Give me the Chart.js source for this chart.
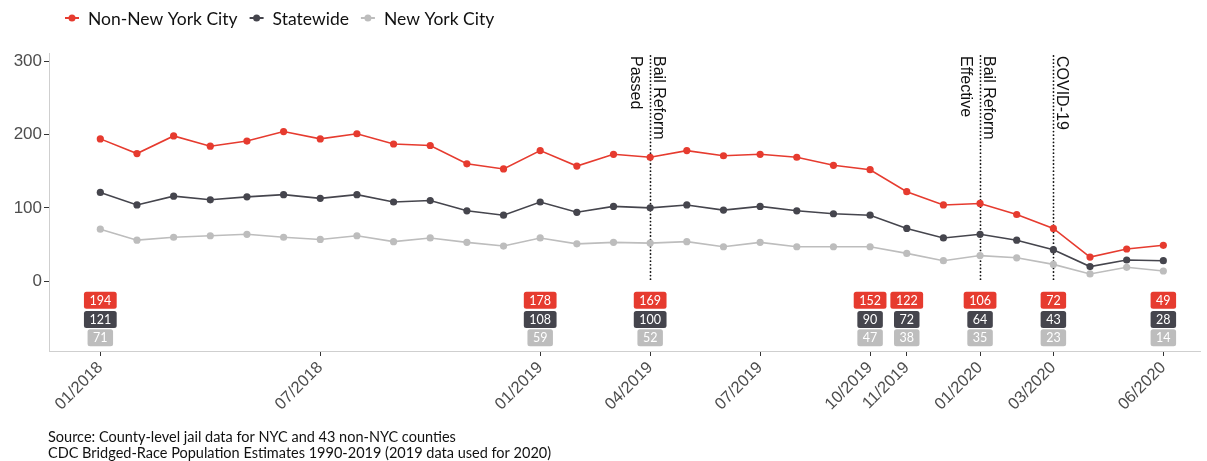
<!DOCTYPE html>
<html>
<head>
<meta charset="utf-8">
<script src="https://cdn.jsdelivr.net/npm/chart.js@4"></script>
<style>
  body { margin: 0; background: #fff; }
  #wrap { width: 1207px; height: 461px; }
</style>
</head>
<body>
<div id="wrap"><canvas id="jailChart" width="1207" height="461"></canvas></div>
<script>
// Meses (eje x)
const months = [
  '01/2018', '02/2018', '03/2018', '04/2018', '05/2018', '06/2018',
  '07/2018', '08/2018', '09/2018', '10/2018', '11/2018', '12/2018',
  '01/2019', '02/2019', '03/2019', '04/2019', '05/2019', '06/2019',
  '07/2019', '08/2019', '09/2019', '10/2019', '11/2019', '12/2019',
  '01/2020', '02/2020', '03/2020', '04/2020', '05/2020', '06/2020'
];
const tickMonths = ['01/2018', '07/2018', '01/2019', '04/2019', '07/2019', '10/2019', '11/2019', '01/2020', '03/2020', '06/2020'];
const yTicks = [0, 100, 200, 300];

// Series
const nonNyc = [194, 174, 198, 184, 191, 204, 194, 201, 187, 185, 160, 153, 178, 157, 173, 169, 178, 171, 173, 169, 158, 152, 122, 104, 106, 91, 72, 33, 44, 49];
const statewide = [121, 104, 116, 111, 115, 118, 113, 118, 108, 110, 96, 90, 108, 94, 102, 100, 104, 97, 102, 96, 92, 90, 72, 59, 64, 56, 43, 20, 29, 28];
const nyc = [71, 56, 60, 62, 64, 60, 57, 62, 54, 59, 53, 48, 59, 51, 53, 52, 54, 47, 53, 47, 47, 47, 38, 28, 35, 32, 23, 10, 19, 14];

const seriesNames = ['Non-New York City', 'Statewide', 'New York City'];
const seriesColors = ['#E63B2F', '#45454D', '#BDBDBD'];

// Etiquetas con valores y eventos
const badgeMonths = ['01/2018', '01/2019', '04/2019', '10/2019', '11/2019', '01/2020', '03/2020', '06/2020'];
const eventMonths = ['04/2019', '01/2020', '03/2020'];
const eventLabels = [['Bail Reform', 'Passed'], ['Bail Reform', 'Effective'], ['COVID-19']];

const sourceLines = [
  'Source: County-level jail data for NYC and 43 non-NYC counties',
  'CDC Bridged-Race Population Estimates 1990-2019 (2019 data used for 2020)'
];

function roundRect(ctx, x, y, w, h, r) {
  ctx.beginPath();
  ctx.moveTo(x + r, y);
  ctx.lineTo(x + w - r, y);
  ctx.quadraticCurveTo(x + w, y, x + w, y + r);
  ctx.lineTo(x + w, y + h - r);
  ctx.quadraticCurveTo(x + w, y + h, x + w - r, y + h);
  ctx.lineTo(x + r, y + h);
  ctx.quadraticCurveTo(x, y + h, x, y + h - r);
  ctx.lineTo(x, y + r);
  ctx.quadraticCurveTo(x, y, x + r, y);
  ctx.closePath();
}

const extrasPlugin = {
  id: 'extras',
  beforeDatasetsDraw(chart) {
    const ctx = chart.ctx;
    const xs = chart.scales.x;
    const ys = chart.scales.y;
    ctx.save();
    // lineas punteadas de eventos
    eventMonths.forEach((m, i) => {
      const x = Math.round(xs.getPixelForValue(months.indexOf(m))) + 0.5;
      const top = ys.top + 3;
      ctx.beginPath();
      ctx.setLineDash([0, 3.6]);
      ctx.lineCap = 'round';
      ctx.lineWidth = 1.8;
      ctx.strokeStyle = '#111';
      ctx.moveTo(x, top);
      ctx.lineTo(x, ys.getPixelForValue(0));
      ctx.stroke();
      ctx.setLineDash([]);

      // texto rotado
      ctx.save();
      ctx.translate(x, top);
      ctx.rotate(Math.PI / 2);
      ctx.fillStyle = '#111';
      ctx.font = '16px "Liberation Sans", Arial, sans-serif';
      ctx.textAlign = 'left';
      ctx.textBaseline = 'alphabetic';
      eventLabels[i].forEach((txt, j) => {
        ctx.fillText(txt, 0, j === 0 ? -3 : 20);
      });
      ctx.restore();
    });
    ctx.restore();
  },
  afterDatasetsDraw(chart) {
    const ctx = chart.ctx;
    const xs = chart.scales.x;
    const ys = chart.scales.y;
    const levels = [-26, -52, -77];
    const all = [nonNyc, statewide, nyc];
    ctx.save();
    ctx.font = '12.5px Lato, sans-serif';
    ctx.textAlign = 'center';
    ctx.textBaseline = 'middle';
    badgeMonths.forEach(m => {
      const idx = months.indexOf(m);
      const x = xs.getPixelForValue(idx);
      all.forEach((serie, s) => {
        const y = ys.getPixelForValue(levels[s]);
        const txt = String(serie[idx]);
        const w = Math.max(ctx.measureText(txt).width + 11, 20);
        const h = 17;
        ctx.fillStyle = seriesColors[s];
        roundRect(ctx, x - w / 2, y - h / 2, w, h, 2.5);
        ctx.fill();
        ctx.fillStyle = '#fff';
        ctx.fillText(txt, x, y + 0.5);
      });
    });
    ctx.restore();
  },
  afterDraw(chart) {
    const ctx = chart.ctx;
    ctx.save();
    // leyenda
    let x = 65;
    const y = 18;
    ctx.font = '17.5px Lato, sans-serif';
    ctx.textBaseline = 'middle';
    ctx.textAlign = 'left';
    seriesNames.forEach((name, i) => {
      ctx.strokeStyle = seriesColors[i];
      ctx.fillStyle = seriesColors[i];
      ctx.lineWidth = 2;
      ctx.beginPath();
      ctx.moveTo(x, y);
      ctx.lineTo(x + 14, y);
      ctx.stroke();
      ctx.beginPath();
      ctx.arc(x + 7, y, 3.5, 0, Math.PI * 2);
      ctx.fill();
      ctx.fillStyle = '#111';
      ctx.fillText(name, x + 23, y + 1);
      x += 23 + ctx.measureText(name).width + 12;
    });

    // fuente
    ctx.font = '14.5px Lato, sans-serif';
    ctx.fillStyle = '#111';
    ctx.textBaseline = 'middle';
    sourceLines.forEach((line, i) => {
      ctx.fillText(line, 48, chart.height - 24 + i * 16);
    });
    ctx.restore();
  }
};

function makeDataset(label, data, color) {
  return {
    label: label,
    data: data,
    borderColor: color,
    backgroundColor: color,
    borderWidth: 1.6,
    pointRadius: 3.6,
    pointHoverRadius: 3.6,
    pointBorderWidth: 0,
    tension: 0
  };
}

const ctx = document.getElementById('jailChart').getContext('2d');
new Chart(ctx, {
  type: 'line',
  data: {
    labels: months.map((m, i) => i),
    datasets: [
      makeDataset(seriesNames[2], nyc, seriesColors[2]),
      makeDataset(seriesNames[1], statewide, seriesColors[1]),
      makeDataset(seriesNames[0], nonNyc, seriesColors[0])
    ]
  },
  options: {
    responsive: false,
    animation: false,
    devicePixelRatio: 1,
    layout: { padding: { top: 53, left: 0, right: 7, bottom: 30 } },
    plugins: {
      legend: { display: false },
      tooltip: { enabled: false }
    },
    scales: {
      x: {
        type: 'linear',
        min: -1.4,
        max: 30,
        afterBuildTicks: scale => {
          scale.ticks = tickMonths.map(m => ({ value: months.indexOf(m) }));
        },
        afterFit: scale => { scale.height = 80; },
        ticks: {
          autoSkip: false,
          minRotation: 45,
          maxRotation: 45,
          padding: 2,
          color: '#4d4d4d',
          font: { family: '"Liberation Sans", Arial, sans-serif', size: 16.5 },
          callback: value => months[value]
        },
        grid: { drawOnChartArea: false, drawTicks: true, tickLength: 5, color: '#333' },
        border: { display: true, color: '#cfcfcf', width: 1 }
      },
      y: {
        min: -95,
        max: 311,
        afterBuildTicks: scale => {
          scale.ticks = yTicks.map(v => ({ value: v }));
        },
        afterFit: scale => { scale.width = 49; },
        ticks: {
          padding: 2,
          color: '#4d4d4d',
          font: { family: '"Liberation Sans", Arial, sans-serif', size: 17 }
        },
        grid: { drawOnChartArea: false, drawTicks: true, tickLength: 5, color: '#333' },
        border: { display: true, color: '#cfcfcf', width: 1 }
      }
    }
  },
  plugins: [extrasPlugin]
});
</script>
</body>
</html>
